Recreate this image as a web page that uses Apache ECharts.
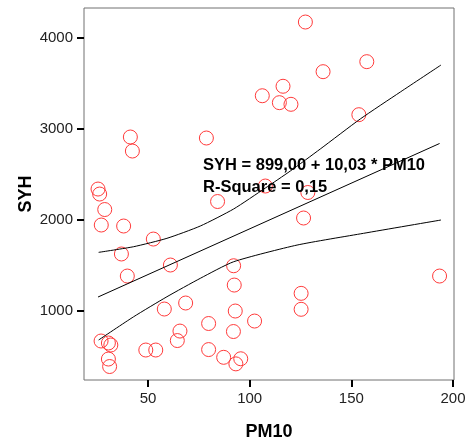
<!DOCTYPE html>
<html>
<head>
<meta charset="utf-8">
<script src="https://cdn.jsdelivr.net/npm/echarts@6/dist/echarts.min.js"></script>
<style>
  html, body { margin: 0; padding: 0; background: #fff; }
  #chart { width: 467px; height: 440px; }
</style>
</head>
<body>
<div id="chart"></div>
<script>
// Observations: PM10 concentration vs. SYH
const pm10 = [25.4, 26.2, 28.7, 27.0, 38.0, 41.3, 42.3, 78.7, 84.2, 52.6, 36.9, 61.0, 39.8, 58.0, 68.5,
  26.9, 30.5, 31.7, 30.5, 31.1, 48.9, 53.8, 64.4, 65.7, 79.8, 79.8, 87.2, 95.6, 93.2, 92.1, 92.4, 92.9,
  92.0, 102.4, 125.3, 125.3, 126.5, 128.6, 107.7, 193.4, 127.4, 157.6, 136.1, 116.4, 106.2, 114.6, 120.3, 153.7];
const syh = [2339, 2284, 2114, 1944, 1933, 2910, 2756, 2899, 2202, 1790, 1626, 1505, 1384, 1022, 1088,
  671, 649, 627, 473, 391, 572, 572, 676, 780, 863, 577, 492, 476, 420, 1497, 1285, 1000,
  775, 890, 1194, 1019, 2021, 2301, 2372, 1384, 4172, 3737, 3627, 3467, 3363, 3287, 3269, 3155];

// Linear fit: SYH = 899,00 + 10,03 * PM10
const intercept = 899.00;
const slope = 10.03;
const rSquare = 0.15;

// 95% confidence band for the mean
const upperX = [25.7, 42.9, 59.3, 75.7, 92.1, 107.7, 120.0, 134.7, 154.4, 174.1, 194.1];
const upperY = [1644, 1706, 1798, 1933, 2120, 2350, 2537, 2778, 3108, 3404, 3700];
const lowerX = [25.7, 42.9, 59.3, 75.7, 92.1, 123.3, 156.0, 194.1];
const lowerY = [682, 937, 1157, 1359, 1541, 1724, 1853, 1999];

// Axis ticks
const xTicks = [50, 100, 150, 200];
const yTicks = [1000, 2000, 3000, 4000];

const fmt = v => v.toFixed(2).replace('.', ',');
const xMin = Math.min(...pm10);
const xMax = Math.max(...pm10);
const fitLine = [[xMin, intercept + slope * xMin], [xMax, intercept + slope * xMax]];

const FONT = '"Liberation Sans", Arial, sans-serif';

const chart = echarts.init(document.getElementById('chart'), null, { renderer: 'canvas' });
chart.setOption({
  animation: false,
  backgroundColor: '#fff',
  grid: {
    left: 84, top: 8, right: 13, bottom: 60, outerBoundsMode: 'none',
    show: true, borderColor: '#707070', borderWidth: 1, backgroundColor: 'transparent'
  },
  xAxis: {
    type: 'value', min: 18.5, max: 200.5,
    name: 'PM10', nameLocation: 'middle', nameGap: 43, nameMoveOverlap: false,
    nameTextStyle: { fontFamily: FONT, fontSize: 18, fontWeight: 'bold', color: '#000' },
    axisLine: { show: false },
    splitLine: { show: false },
    axisTick: { show: true, length: 7, customValues: xTicks, lineStyle: { color: '#000', width: 2 } },
    axisLabel: { customValues: xTicks, margin: 11, fontFamily: FONT, fontSize: 15, color: '#222',
      formatter: v => String(v) }
  },
  yAxis: {
    type: 'value', min: 243, max: 4326,
    name: 'SYH', nameLocation: 'middle', nameGap: 49, nameRotate: 90, nameMoveOverlap: false,
    nameTextStyle: { fontFamily: FONT, fontSize: 18, fontWeight: 'bold', color: '#000' },
    axisLine: { show: false },
    splitLine: { show: false },
    axisTick: { show: true, length: 7, customValues: yTicks, lineStyle: { color: '#000', width: 2 } },
    axisLabel: { customValues: yTicks, margin: 11, fontFamily: FONT, fontSize: 15, color: '#222',
      formatter: v => String(v) }
  },
  series: [
    {
      type: 'line', data: upperX.map((x, i) => [x, upperY[i]]),
      smooth: 0.2, showSymbol: false, silent: true,
      lineStyle: { color: '#000', width: 1 }, z: 3
    },
    {
      type: 'line', data: fitLine,
      showSymbol: false, silent: true,
      lineStyle: { color: '#000', width: 1 }, z: 3
    },
    {
      type: 'line', data: lowerX.map((x, i) => [x, lowerY[i]]),
      smooth: 0.2, showSymbol: false, silent: true,
      lineStyle: { color: '#000', width: 1 }, z: 3
    },
    {
      type: 'scatter', data: pm10.map((x, i) => [x, syh[i]]),
      symbol: 'circle', symbolSize: 14,
      itemStyle: { color: 'rgba(0,0,0,0)', borderColor: '#ff3b3b', borderWidth: 1, opacity: 1 },
      z: 2
    }
  ],
  graphic: [
    {
      type: 'text', left: 203, top: 157, z: 10,
      style: {
        text: 'SYH = ' + fmt(intercept) + ' + ' + fmt(slope) + ' * PM10',
        font: 'bold 16.5px ' + FONT, fill: '#000'
      }
    },
    {
      type: 'text', left: 203, top: 179, z: 10,
      style: {
        text: 'R-Square = ' + fmt(rSquare),
        font: 'bold 16.5px ' + FONT, fill: '#000'
      }
    }
  ]
});
</script>
</body>
</html>
